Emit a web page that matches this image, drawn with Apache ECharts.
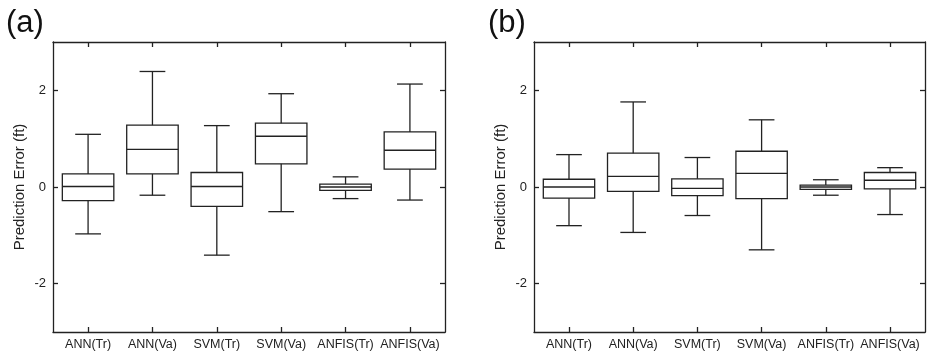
<!DOCTYPE html>
<html>
<head>
<meta charset="utf-8">
<script src="https://cdn.jsdelivr.net/npm/echarts@6/dist/echarts.min.js"></script>
<style>
html, body { margin: 0; padding: 0; background: #fff; }
#main { width: 929px; height: 354px; }
</style>
</head>
<body>
<div id="main"></div>
<script>
// categories
var cats = ['ANN(Tr)', 'ANN(Va)', 'SVM(Tr)', 'SVM(Va)', 'ANFIS(Tr)', 'ANFIS(Va)'];
// [lower whisker, Q1, median, Q3, upper whisker]
var boxA = [
    [-0.97, -0.28, 0.01, 0.27, 1.09],
    [-0.17, 0.27, 0.78, 1.28, 2.39],
    [-1.41, -0.40, 0.01, 0.30, 1.27],
    [-0.51, 0.48, 1.05, 1.32, 1.93],
    [-0.24, -0.07, 0.00, 0.06, 0.21],
    [-0.27, 0.37, 0.76, 1.14, 2.13]
];
var boxB = [
    [-0.80, -0.23, 0.00, 0.16, 0.67],
    [-0.94, -0.09, 0.22, 0.70, 1.76],
    [-0.59, -0.18, -0.03, 0.17, 0.61],
    [-1.30, -0.24, 0.28, 0.74, 1.39],
    [-0.17, -0.05, 0.00, 0.04, 0.15],
    [-0.57, -0.04, 0.14, 0.30, 0.40]
];
var yTicks = [-2, 0, 2];
var catIdx = [0, 1, 2, 3, 4, 5];

var lineColor = '#222';
var fontFam = 'Liberation Sans, Arial, sans-serif';

//把统计值转成custom series用的数据
function toData(box) {
    var out = [];
    box.forEach(function (b, i) {
        out.push([i, b[0], b[1], b[2], b[3], b[4]]);
    });
    return out;
}

function renderBox(params, api) {
    var x = api.value(0);
    var band = api.size([1, 0])[0];
    var half = band * 0.4;
    var cap = band * 0.2;
    var lo = api.coord([x, api.value(1)]);
    var q1 = api.coord([x, api.value(2)]);
    var md = api.coord([x, api.value(3)]);
    var q3 = api.coord([x, api.value(4)]);
    var hi = api.coord([x, api.value(5)]);
    var cx = lo[0];
    var st = { stroke: lineColor, lineWidth: 1.3, fill: null };
    return {
        type: 'group',
        children: [
            { type: 'line', shape: { x1: cx, y1: hi[1], x2: cx, y2: q3[1] }, style: st },
            { type: 'line', shape: { x1: cx, y1: q1[1], x2: cx, y2: lo[1] }, style: st },
            { type: 'line', shape: { x1: cx - cap, y1: hi[1], x2: cx + cap, y2: hi[1] }, style: st },
            { type: 'line', shape: { x1: cx - cap, y1: lo[1], x2: cx + cap, y2: lo[1] }, style: st },
            { type: 'rect', shape: { x: cx - half, y: q3[1], width: half * 2, height: q1[1] - q3[1] }, style: st },
            { type: 'line', shape: { x1: cx - half, y1: md[1], x2: cx + half, y2: md[1] }, style: st }
        ]
    };
}

function xAxes(gi) {
    var base = {
        type: 'value', gridIndex: gi, min: -0.545, max: 5.545,
        splitLine: { show: false },
        axisLine: { show: true, onZero: false, lineStyle: { color: lineColor, width: 1.3 } },
        axisTick: { show: true, inside: true, length: 5, customValues: catIdx, lineStyle: { color: lineColor, width: 1.3 } }
    };
    var bottom = Object.assign({}, base, {
        position: 'bottom',
        axisLabel: {
            show: true, customValues: catIdx, margin: 6,
            color: '#222', fontSize: 12.5, fontFamily: fontFam,
            formatter: function (v) { return cats[Math.round(v)]; }
        }
    });
    var top = Object.assign({}, base, { position: 'top', axisLabel: { show: false } });
    return [bottom, top];
}

function yAxes(gi, name) {
    var base = {
        type: 'value', gridIndex: gi, min: -3, max: 3,
        splitLine: { show: false },
        axisLine: { show: true, onZero: false, lineStyle: { color: lineColor, width: 1.3 } },
        axisTick: { show: true, inside: true, length: 5, customValues: yTicks, lineStyle: { color: lineColor, width: 1.3 } }
    };
    var left = Object.assign({}, base, {
        position: 'left',
        name: name, nameLocation: 'middle', nameGap: 26, nameRotate: 90,
        nameTextStyle: { fontSize: 15, color: '#222', fontFamily: fontFam },
        axisLabel: { show: true, customValues: yTicks, margin: 7, color: '#222', fontSize: 13, fontFamily: fontFam }
    });
    var right = Object.assign({}, base, { position: 'right', axisLabel: { show: false } });
    return [left, right];
}

var myChart = echarts.init(document.getElementById('main'));
var option = {
    animation: false,
    backgroundColor: '#fff',
    title: [
        { text: '(a)', left: 1, top: 3, textStyle: { fontSize: 31, fontWeight: 'normal', color: '#111', fontFamily: fontFam } },
        { text: '(b)', left: 483, top: 3, textStyle: { fontSize: 31, fontWeight: 'normal', color: '#111', fontFamily: fontFam } }
    ],
    grid: [
        { left: 53, top: 42, width: 392, height: 290 },
        { left: 534, top: 42, width: 391, height: 290 }
    ],
    xAxis: xAxes(0).concat(xAxes(1)),
    yAxis: yAxes(0, 'Prediction Error (ft)').concat(yAxes(1, 'Prediction Error (ft)')),
    series: [
        { type: 'custom', xAxisIndex: 0, yAxisIndex: 0, renderItem: renderBox, data: toData(boxA) },
        { type: 'custom', xAxisIndex: 2, yAxisIndex: 2, renderItem: renderBox, data: toData(boxB) }
    ]
};
myChart.setOption(option);
</script>
</body>
</html>
